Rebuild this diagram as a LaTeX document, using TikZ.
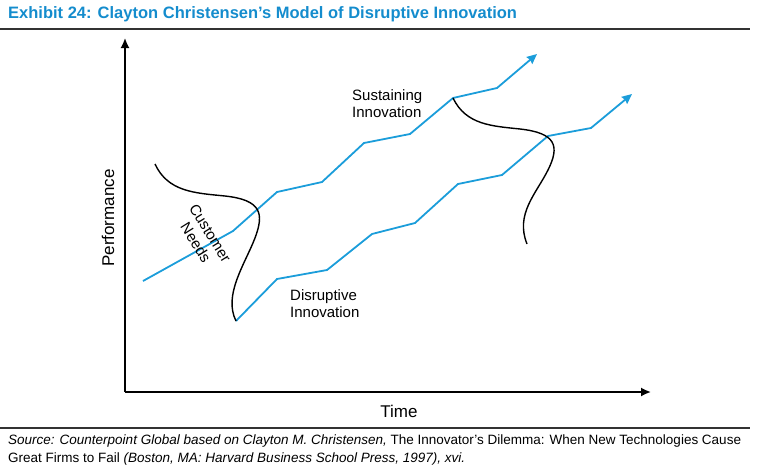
\documentclass[tikz,border=0pt]{standalone}
\usepackage{fontspec}
\setmainfont{Liberation Sans}
\usetikzlibrary{arrows.meta}
\definecolor{cblue}{RGB}{27,157,218}
\definecolor{tblue}{RGB}{20,140,205}
\tikzset{
  axis/.style={line width=1.7pt,-{Latex[length=10pt,width=9pt]}},
  bluearrow/.style={cblue,line width=1.8pt,line join=miter,-{Stealth[length=10pt,width=9pt,inset=1pt]}},
  need/.style={black,line width=1.4pt},
  lbl/.style={font=\fontsize{15}{17}\selectfont,inner sep=0pt},
  axlbl/.style={font=\fontsize{17}{19}\selectfont,inner sep=0pt},
  srcfont/.style={font=\fontsize{13.5}{16}\selectfont},
  rule/.style={line width=1.2pt,black!80}
}
\begin{document}
\begin{tikzpicture}[x=1pt,y=-1pt]
\useasboundingbox (0,0) rectangle (758,472);
% title
\node[anchor=base west,inner sep=0pt,text=tblue,font=\fontsize{16.5}{18}\selectfont\bfseries] (title) at (8,18) {Exhibit 24: Clayton Christensen’s Model of Disruptive Innovation};
\coordinate (r1a) at (0,29); \coordinate (r1b) at (750,29);
\draw[rule] (r1a) -- (r1b);
% axes
\coordinate (o) at (125,392);
\coordinate (ytop) at (125,38);
\coordinate (xend) at (651,392);
\draw[axis] (o) -- (ytop);
\draw[axis] (o) -- (xend);
\node[axlbl,rotate=90] (perf) at (108,218) {Performance};
\node[axlbl] (time) at (399,411) {Time};
% sustaining
\coordinate (s0) at (143,281);
\draw[bluearrow] (s0) -- (233,231) -- (277,192) -- (322,182) -- (364,143) -- (410,134) -- (453,98) -- (497,88) -- (537,54);
% disruptive
\coordinate (d0) at (236,321);
\draw[bluearrow] (d0) -- (277,279) -- (327,270) -- (372,234) -- (415,223) -- (458,184) -- (502,175) -- (548,136) -- (591,128) -- (632,94);
% customer needs curves
\coordinate (c1) at (155,164);
\draw[need] (c1) .. controls (168,192) and (195,193) .. (225,196) .. controls (262,200) and (264,214) .. (255,238) .. controls (245,264) and (223,295) .. (236,321);
\coordinate (c2) at (453,98);
\draw[need] (c2) .. controls (466,125) and (492,126) .. (520,129) .. controls (556,133) and (560,146) .. (548,170) .. controls (536,194) and (515,214) .. (527,244);
% labels
\node[lbl,rotate=-58,align=center] (cn) at (203,238) {Customer\\Needs};
\node[lbl,align=left,anchor=north west] (sus) at (352,89) {Sustaining\\Innovation};
\node[lbl,align=left,anchor=north west] (dis) at (290,289) {Disruptive\\Innovation};
% bottom rule and source
\coordinate (r2a) at (0,428); \coordinate (r2b) at (750,428);
\draw[rule] (r2a) -- (r2b);
\node[anchor=base west,inner sep=0pt,srcfont] (src1) at (8,444) {\itshape Source: Counterpoint Global based on Clayton M. Christensen, \upshape The Innovator’s Dilemma: When New Technologies Cause};
\node[anchor=base west,inner sep=0pt,srcfont] (src2) at (8,462) {Great Firms to Fail \itshape (Boston, MA: Harvard Business School Press, 1997), xvi.};
\end{tikzpicture}
\end{document}
